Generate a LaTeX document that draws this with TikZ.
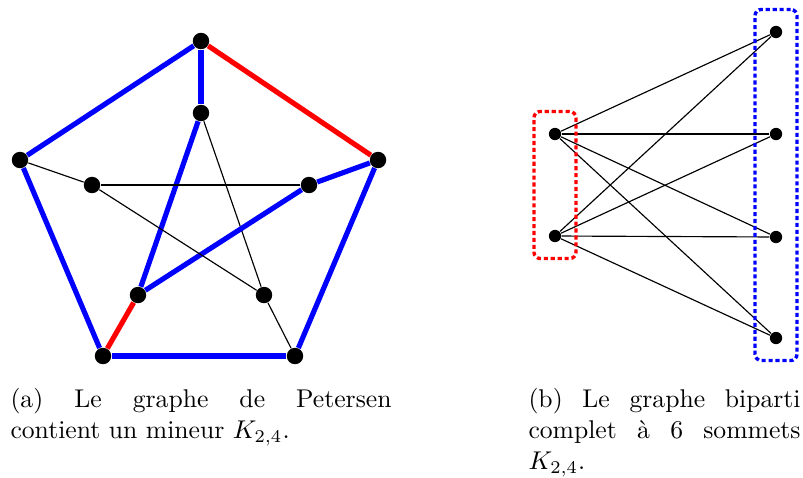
\documentclass[tikz,border=0pt]{standalone}
\usepackage{tikz}
\usetikzlibrary{positioning, fit}
\definecolor{minorBlue}{HTML}{0000FF}
\definecolor{minorRed}{HTML}{FF0000}

\begin{document}
\begin{tikzpicture}[x=0.0137cm, y=-0.0137cm,
  vtx/.style={circle, fill=black, inner sep=0pt, minimum size=6.4pt},
  bvtx/.style={circle, fill=black, inner sep=0pt, minimum size=4.8pt},
  blueedge/.style={draw=minorBlue, line width=2pt},
  rededge/.style={draw=minorRed, line width=2pt},
  thinedge/.style={draw=black, line width=0.45pt},
  groupbox/.style={draw=#1, line width=1.3pt, dash pattern=on 1.6pt off 1.1pt, rounded corners=2.5pt,
                   inner xsep=5.6pt, inner ysep=6.2pt},
  caption/.style={anchor=north west, inner sep=0pt, align=justify, font=\normalsize}]
  \useasboundingbox (0,0) rectangle (803,477);
  % Petersen graph
  \foreach \name/\x/\y in {o1/201/41, o2/378/160, o3/295/356, o4/103/356, o5/20/160,
                           i1/201/113, i2/309/185, i3/264/295, i4/138/295, i5/92/185}{
    \node[vtx] (\name) at (\x,\y) {};
  }
  \foreach \a/\b/\sty in {o1/o5/blueedge, o1/o2/rededge, o2/o3/blueedge, o3/o4/blueedge, o4/o5/blueedge,
                          o1/i1/blueedge, o2/i2/blueedge, o3/i3/thinedge, o4/i4/rededge, o5/i5/thinedge,
                          i1/i4/blueedge, i1/i3/thinedge, i2/i4/blueedge, i2/i5/thinedge, i5/i3/thinedge}{
    \draw[\sty] (\a) -- (\b);
  }
  \node[caption, text width=381*0.0137cm] (capA) at (10,388)
    {(a) Le graphe de Petersen\linebreak contient un mineur $K_{2,4}$.};
  % K_{2,4}
  \foreach \name/\y in {l1/134, l2/236}{
    \node[bvtx] (\name) at (555,\y) {};
  }
  \foreach \name/\y in {r1/32, r2/134, r3/237, r4/338}{
    \node[bvtx] (\name) at (776,\y) {};
  }
  \foreach \a in {l1, l2}{
    \foreach \b in {r1, r2, r3, r4}{
      \draw[thinedge] (\a) -- (\b);
    }
  }
  \node[groupbox=minorRed, fit=(l1)(l2)] (boxL) {};
  \node[groupbox=minorBlue, fit=(r1)(r4)] (boxR) {};
  \node[caption, text width=272*0.0137cm] (capB) at (528,388)
    {(b) Le graphe biparti complet à 6 sommets $K_{2,4}$.};
\end{tikzpicture}
\end{document}
